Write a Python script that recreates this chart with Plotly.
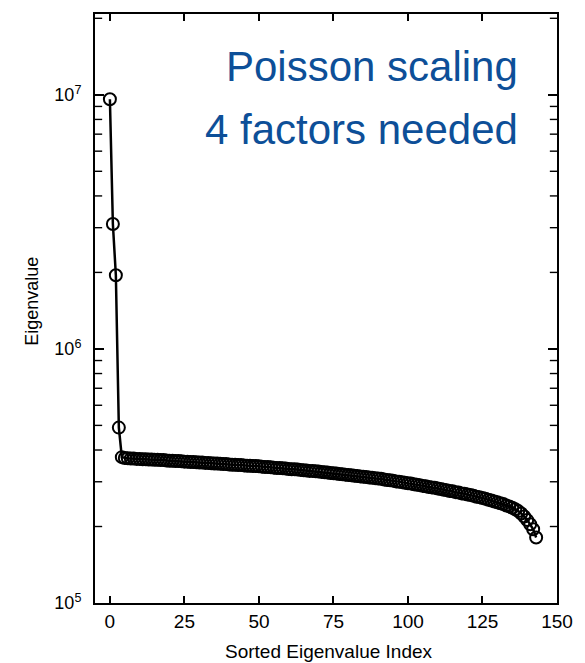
import plotly.graph_objects as go

# Sorted eigenvalue index (0-based) and eigenvalues
index = list(range(144))
eigenvalues = [
    9.6e6, 3.1e6, 1.95e6, 4.9e5, 3.75e5,
    372e3, 371e3, 370e3, 370e3, 369e3, 369e3, 368e3, 368e3, 367e3, 367e3,
    366e3, 366e3, 365e3, 365e3, 364e3, 363e3, 363e3, 362e3, 362e3, 361e3,
    360e3, 360e3, 359e3, 359e3, 358e3, 357e3, 357e3, 356e3, 356e3, 355e3,
    354e3, 354e3, 353e3, 352e3, 352e3, 351e3, 350e3, 350e3, 349e3, 349e3,
    348e3, 347e3, 347e3, 346e3, 346e3, 345e3, 344e3, 343e3, 343e3, 342e3,
    341e3, 340e3, 340e3, 339e3, 338e3, 337e3, 336e3, 336e3, 335e3, 334e3,
    333e3, 332e3, 331e3, 331e3, 330e3, 329e3, 328e3, 327e3, 326e3, 325e3,
    324e3, 323e3, 322e3, 321e3, 320e3, 319e3, 318e3, 317e3, 316e3, 315e3,
    314e3, 313e3, 312e3, 311e3, 310e3, 309e3, 308e3, 306e3, 305e3, 304e3,
    303e3, 301e3, 300e3, 299e3, 297e3, 296e3, 295e3, 293e3, 292e3, 291e3,
    289e3, 288e3, 286e3, 285e3, 284e3, 282e3, 281e3, 279e3, 278e3, 276e3,
    275e3, 273e3, 272e3, 270e3, 269e3, 267e3, 266e3, 264e3, 262e3, 261e3,
    259e3, 257e3, 255e3, 253e3, 251e3, 249e3, 247e3, 245e3, 242e3, 240e3,
    237e3, 234e3, 230e3, 225e3, 219e3, 212e3, 204e3, 195e3, 181e3,
]

x_ticks = [0, 25, 50, 75, 100, 125, 150]
x_range = [-5, 150]
y_major = [1e5, 1e6, 1e7]
y_major_text = ["10<sup>5</sup>", "10<sup>6</sup>", "10<sup>7</sup>"]
y_log_range = [5, 7.318]

FONT = "Liberation Sans, Arial, sans-serif"
BLUE = "#0d4f98"
W, H = 585, 663
PL, PR, PT, PB = 95, 563, 12, 603

# log minor tick positions (2..9 x 10^n) inside the visible range
y_minor = [float(m * p) for p in y_major for m in range(2, 10)
           if m * p <= 10 ** y_log_range[1]]

fig = go.Figure()
fig.add_trace(go.Scatter(
    x=index, y=eigenvalues, mode="lines+markers",
    line=dict(color="black", width=2.5),
    marker=dict(symbol="circle-open", size=12, color="black",
                line=dict(width=2, color="black")),
    showlegend=False, hoverinfo="skip",
))

# minor log ticks on the inside of the left and right frame edges
units_per_px = (x_range[1] - x_range[0]) / (PR - PL)
MINOR_LEN = 6
half = MINOR_LEN / 2 * units_per_px
for edge_x in (x_range[0] + half, x_range[1] - half):
    fig.add_trace(go.Scatter(
        x=[edge_x] * len(y_minor), y=y_minor, mode="markers",
        marker=dict(symbol="line-ew", size=MINOR_LEN, color="black",
                    line=dict(width=1.4, color="black")),
        cliponaxis=False, showlegend=False, hoverinfo="skip",
    ))

fig.update_layout(
    width=W, height=H,
    margin=dict(l=PL, r=W - PR, t=PT, b=H - PB),
    paper_bgcolor="white", plot_bgcolor="white",
    font=dict(family=FONT, color="black", size=18),
)

fig.update_xaxes(
    range=x_range, tickvals=x_ticks, ticktext=[str(t) for t in x_ticks],
    ticks="inside", ticklen=7, tickwidth=1.5, tickcolor="black",
    showline=True, linecolor="black", linewidth=2, mirror="allticks",
    showgrid=False, zeroline=False,
    tickfont=dict(size=19, family=FONT, color="black"),
)
fig.update_yaxes(
    type="log", range=y_log_range, tickmode="array",
    tickvals=y_major, ticktext=y_major_text,
    ticks="inside", ticklen=9, tickwidth=1.5, tickcolor="black",
    showline=True, linecolor="black", linewidth=2, mirror="allticks",
    showgrid=False, zeroline=False, ticklabelstandoff=8,
    tickfont=dict(size=18, family=FONT, color="black"),
)

def add_text(text, px, py, size, color="black", xanchor="center", angle=0):
    fig.add_annotation(
        text=text, xref="paper", yref="paper",
        x=(px - PL) / (PR - PL), y=(PB - py) / (PB - PT),
        xanchor=xanchor, yanchor="middle", showarrow=False, textangle=angle,
        font=dict(size=size, color=color, family=FONT),
    )

add_text("Poisson scaling", 526, 65, 42, BLUE, xanchor="right")
add_text("4 factors needed", 526, 128, 42, BLUE, xanchor="right")
add_text("Sorted Eigenvalue Index", 332, 652, 19)
add_text("Eigenvalue", 31, 300, 18, angle=-90)

fig.write_html("out.html")
